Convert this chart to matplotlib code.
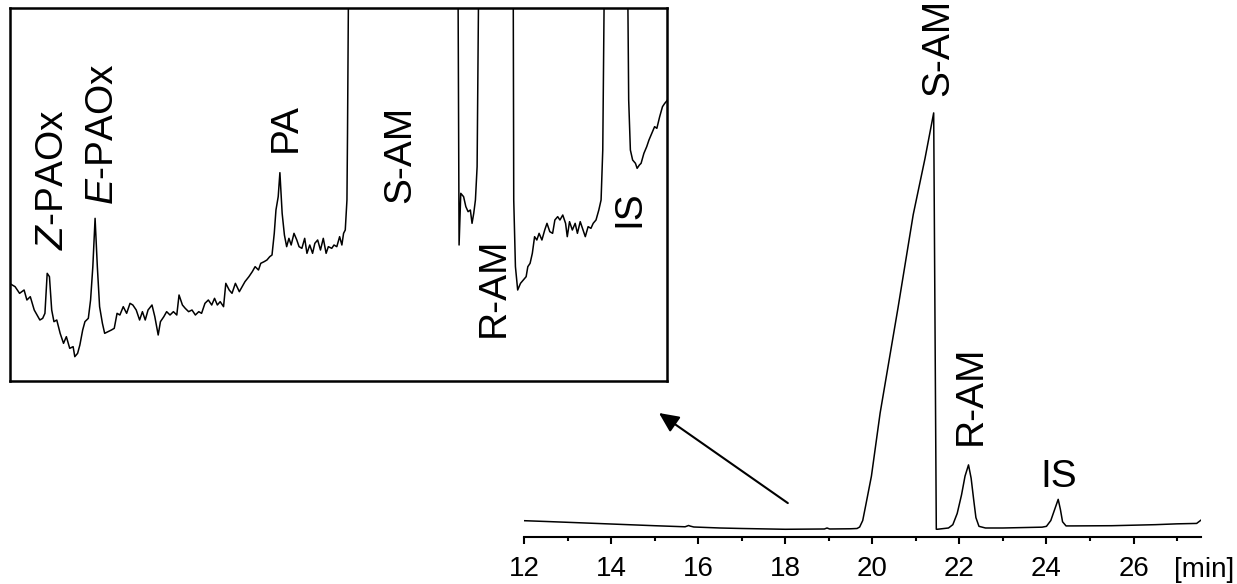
import matplotlib
matplotlib.use("Agg")
import matplotlib.pyplot as plt

plt.rcParams['font.family'] = ['Liberation Sans', 'DejaVu Sans']
plt.rcParams['mathtext.fontset'] = 'custom'
plt.rcParams['mathtext.rm'] = 'Liberation Sans'
plt.rcParams['mathtext.it'] = 'Liberation Sans:italic'

# ---------------- main chromatogram (time in min, signal in arbitrary units) -------------
main_t = [12.0, 12.5, 13.0, 14.0, 15.0, 15.7, 15.78, 15.82, 15.9, 16.5, 17.0, 18.0,
          18.9, 18.96, 19.02, 19.5, 19.65, 19.71, 19.78, 19.85, 19.98, 20.18, 20.59,
          20.94, 21.21, 21.41, 21.47, 21.5, 21.75, 21.85, 21.95, 22.05, 22.13, 22.21,
          22.27, 22.33, 22.38, 22.45, 22.6, 23.0, 23.9, 24.0, 24.1, 24.2, 24.27, 24.32,
          24.37, 24.45, 24.6, 25.5, 26.5, 27.0, 27.45, 27.55]
main_sig = [1.76, 1.57, 1.37, 0.96, 0.55, 0.29, 0.6, 0.45, 0.24, 0.0, -0.12, -0.31,
            -0.24, 0.0, -0.24, -0.19, -0.12, 0.24, 1.8, 5.5, 12.5, 27.7, 53.0,
            75.5, 89.0, 100.0, -0.3, -0.3, 0.0, 0.8, 3.5, 8.0, 12.5, 15.2,
            12.0, 6.7, 2.5, 0.4, 0.0, 0.0, 0.2, 0.4, 1.8, 4.8, 6.9, 4.5,
            1.5, 0.5, 0.5, 0.55, 0.8, 1.0, 1.1, 1.9]

major_ticks = [12, 14, 16, 18, 20, 22, 24, 26]
tick_labels = ["12", "14", "16", "18", "20", "22", "24", "26"]
minor_ticks = [13, 15, 17, 19, 21, 23, 25, 27]
unit_label = "[min]"

main_peaks = ["S-AM", "R-AM", "IS"]
main_peak_t = [21.74, 22.50, 24.27]
main_peak_y = [104.0, 20.0, 9.9]

# ---------------- inset (zoomed baseline) ----------------
inset_t = [13.48, 13.49, 13.59, 13.67, 13.75, 13.80, 13.86, 13.93, 13.98, 14.03, 14.08, 14.12,
           14.16, 14.20, 14.24, 14.28, 14.33, 14.39, 14.45, 14.50, 14.56, 14.62, 14.65, 14.70,
           14.74, 14.79, 14.83, 14.89, 14.93, 14.97, 15.01, 15.05, 15.09, 15.14, 15.18, 15.24,
           15.30, 15.35, 15.40, 15.45, 15.51, 15.57, 15.63, 15.68, 15.74, 15.80, 15.85, 15.90,
           15.95, 16.02, 16.07, 16.13, 16.17, 16.23, 16.28, 16.34, 16.40, 16.46, 16.50, 16.56,
           16.61, 16.67, 16.73, 16.79, 16.85, 16.90, 16.96, 17.02, 17.08, 17.13, 17.18, 17.23,
           17.29, 17.33, 17.39, 17.44, 17.50, 17.57, 17.62, 17.67, 17.74, 17.80, 17.85, 17.91,
           17.95, 18.01, 18.06, 18.11, 18.15, 18.19, 18.22, 18.26, 18.29, 18.33, 18.37, 18.41,
           18.45, 18.49, 18.54, 18.59, 18.63, 18.68, 18.73, 18.77, 18.82, 18.87, 18.91, 18.96,
           19.01, 19.06, 19.11, 19.15, 19.21, 19.25, 19.30, 19.35, 19.39, 19.42, 19.45, 19.48,
           19.49, 19.51, 21.43, 21.45, 21.47, 21.50, 21.55, 21.59, 21.63, 21.67, 21.70, 21.73,
           21.76, 21.79, 21.82, 22.20, 22.43, 22.44, 22.47, 22.51, 22.56, 22.61, 22.66, 22.69,
           22.73, 22.77, 22.81, 22.85, 22.89, 22.94, 22.99, 23.03, 23.08, 23.13, 23.17, 23.22,
           23.26, 23.31, 23.36, 23.39, 23.43, 23.48, 23.53, 23.57, 23.62, 23.67, 23.71, 23.76,
           23.81, 23.85, 23.90, 23.95, 23.99, 24.02, 24.05, 24.26, 24.46, 24.48, 24.51, 24.55,
           24.60, 24.63, 24.67, 24.70, 24.75, 24.80, 24.84, 24.89, 24.94, 24.98, 25.03, 25.08,
           25.12, 25.17, 25.21]
inset_sig = [3.28, 2.93, 2.83, 2.63, 2.73, 2.43, 2.53, 2.13, 1.98, 1.83, 1.88, 2.03,
             3.23, 3.13, 2.13, 1.78, 1.83, 1.43, 1.13, 1.33, 0.98, 1.03, 0.73, 0.83,
             1.08, 1.53, 1.78, 1.88, 2.43, 3.43, 4.88, 3.43, 2.23, 1.73, 1.43, 1.48,
             1.53, 1.58, 2.03, 1.98, 2.23, 2.03, 2.33, 2.28, 2.13, 1.83, 2.08, 1.83,
             2.13, 2.28, 1.93, 1.38, 1.78, 1.93, 2.08, 1.98, 2.08, 1.98, 2.58, 2.28,
             2.18, 2.08, 2.13, 1.98, 2.08, 2.03, 2.33, 2.43, 2.28, 2.48, 2.28, 2.38,
             2.23, 2.93, 2.73, 2.63, 2.93, 2.68, 2.83, 2.98, 3.13, 3.28, 3.43, 3.33,
             3.53, 3.58, 3.63, 3.73, 3.78, 4.43, 5.13, 5.53, 6.25, 5.03, 4.38, 4.03,
             4.28, 4.08, 4.43, 4.23, 4.03, 3.98, 4.28, 3.83, 4.08, 3.83, 4.13, 4.23,
             3.93, 4.28, 3.83, 4.03, 3.98, 4.08, 4.03, 4.33, 4.08, 4.43, 4.53, 5.43,
             7.43, 12.5, 200.0, 12.5, 4.08, 5.63, 5.53, 5.23, 5.08, 5.13, 4.73, 5.03,
             5.43, 6.43, 12.5, 60.0, 12.5, 5.43, 3.43, 2.73, 2.93, 3.03, 3.13, 3.43,
             3.53, 3.83, 4.33, 4.23, 4.43, 4.23, 4.53, 4.73, 4.48, 4.43, 4.83, 4.93,
             4.83, 4.98, 4.73, 4.33, 4.78, 4.53, 4.73, 4.43, 4.78, 4.53, 4.33, 4.63,
             4.58, 4.73, 4.83, 5.13, 5.43, 6.93, 12.5, 30.0, 12.5, 8.43, 6.93, 6.63,
             6.53, 6.38, 6.48, 6.53, 6.83, 7.03, 7.23, 7.43, 7.63, 7.58, 7.93, 8.23,
             8.33, 8.43, 8.83]

inset_peaks = ["$Z$-PAOx", "$E$-PAOx", "PA", "S-AM", "R-AM", "IS"]
inset_peak_t = [14.44, 15.33, 18.58, 20.60, 22.26, 24.67]
inset_peak_y = [3.93, 5.28, 6.87, 5.34, 1.32, 4.62]

# ---------------- figure ----------------
W, H = 1237, 584
fig = plt.figure(figsize=(W / 100, H / 100), dpi=100)

ax = fig.add_axes([524 / W, 1 - 537 / H, 677 / W, 537 / H])
ax.patch.set_visible(False)
ax.plot(main_t, main_sig, color='black', lw=1.1)
ax.set_xlim(12, 27.55)
ax.set_ylim(-2.17, 127.2)
for s in ['left', 'right', 'top']:
    ax.spines[s].set_visible(False)
ax.spines['bottom'].set_linewidth(1.5)
ax.set_yticks([])
ax.set_xticks(major_ticks)
ax.set_xticklabels(tick_labels)
ax.set_xticks(minor_ticks, minor=True)
ax.tick_params(axis='x', which='major', direction='out', length=5, width=1.5,
               labelsize=20, pad=9)
ax.tick_params(axis='x', which='minor', direction='out', length=3, width=1.5)
ax.text(27.63, -20 / 537, unit_label, transform=ax.get_xaxis_transform(),
        ha='center', va='top', fontsize=20)

for name, t, y in zip(main_peaks, main_peak_t, main_peak_y):
    if name == "IS":
        ax.text(t, y, name, fontsize=28, ha='center', va='baseline')
    else:
        ax.text(t, y, name, fontsize=28, rotation=90, rotation_mode='anchor',
                ha='left', va='baseline')

ax.annotate('', xy=(15.1, 27.7), xytext=(18.06, 6.0),
            arrowprops=dict(arrowstyle='-|>,head_length=0.6,head_width=0.28',
                            mutation_scale=20, lw=1.5, color='black',
                            shrinkA=0, shrinkB=0))

axi = fig.add_axes([10 / W, 1 - 381 / H, 657 / W, 373 / H])
axi.plot(inset_t, inset_sig, color='black', lw=1.1)
axi.set_xlim(13.50, 25.16)
axi.set_ylim(0, 11.19)
axi.set_xticks([])
axi.set_yticks([])
for s in axi.spines.values():
    s.set_linewidth(1.8)
for name, t, y in zip(inset_peaks, inset_peak_t, inset_peak_y):
    axi.text(t, y, name, fontsize=28, rotation=90, rotation_mode='anchor',
             ha='left', va='baseline')

fig.savefig("out.png", dpi=100)
